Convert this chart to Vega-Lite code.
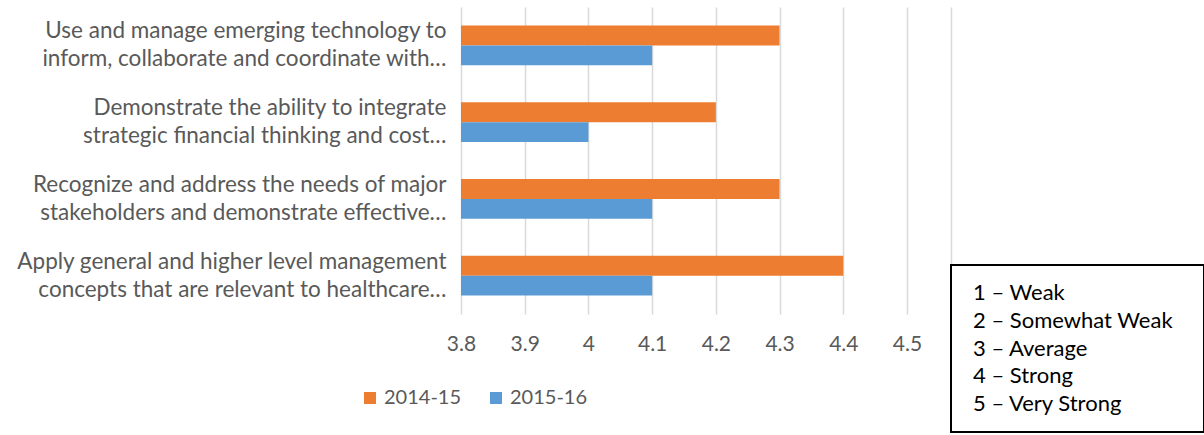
{
  "$schema": "https://vega.github.io/schema/vega-lite/v6.json",
  "padding": {"left": 5, "top": 7, "right": 0, "bottom": 0},
  "config": {"view": {"stroke": null}, "font": "Lato"},
  "bounds": "flush",
  "spacing": 44,
  "hconcat": [
    {
      "width": 446,
      "height": 307,
      "data": {
        "values": [
          {"skill": "Use and manage emerging technology to|inform, collaborate and coordinate with…", "year": "2014-15", "score": 4.3},
          {"skill": "Use and manage emerging technology to|inform, collaborate and coordinate with…", "year": "2015-16", "score": 4.1},
          {"skill": "Demonstrate the ability to integrate|strategic financial thinking and cost…", "year": "2014-15", "score": 4.2},
          {"skill": "Demonstrate the ability to integrate|strategic financial thinking and cost…", "year": "2015-16", "score": 4.0},
          {"skill": "Recognize and address the needs of major|stakeholders and demonstrate effective…", "year": "2014-15", "score": 4.3},
          {"skill": "Recognize and address the needs of major|stakeholders and demonstrate effective…", "year": "2015-16", "score": 4.1},
          {"skill": "Apply general and higher level management|concepts that are relevant to healthcare…", "year": "2014-15", "score": 4.4},
          {"skill": "Apply general and higher level management|concepts that are relevant to healthcare…", "year": "2015-16", "score": 4.1}
        ]
      },
      "mark": {"type": "bar"},
      "encoding": {
        "y": {
          "field": "skill", "type": "nominal", "sort": null,
          "scale": {"paddingInner": 0.48, "paddingOuter": 0.24},
          "axis": {"title": null, "domain": false, "ticks": false, "labelExpr": "split(datum.label, '|')", "labelFontSize": 22.5, "labelColor": "#595959", "labelPadding": 15, "labelLineHeight": 28, "labelOffset": -14, "labelLimit": 0, "minExtent": 456, "maxExtent": 456}
        },
        "yOffset": {"field": "year", "type": "nominal", "sort": ["2014-15", "2015-16"]},
        "x": {
          "field": "score", "type": "quantitative",
          "scale": {"domain": [3.8, 4.5], "zero": false, "nice": false},
          "axis": {"title": null, "values": [3.8, 3.9, 4, 4.1, 4.2, 4.3, 4.4, 4.5], "format": "~g", "labelFlush": false, "domain": false, "ticks": false, "gridColor": "#D9D9D9", "gridWidth": 1.5, "labelFontSize": 21, "labelColor": "#595959", "labelPadding": 19}
        },
        "x2": {"datum": 3.8},
        "color": {
          "field": "year", "type": "nominal",
          "scale": {"domain": ["2014-15", "2015-16"], "range": ["#ED7D31", "#5B9BD5"]},
          "legend": {"title": null, "orient": "none", "direction": "horizontal", "legendX": -101, "legendY": 381, "symbolType": "square", "symbolSize": 144, "symbolStrokeWidth": 0, "labelFontSize": 20, "labelColor": "#595959", "columnPadding": 24, "labelOffset": 4}
        }
      }
    },
    {
      "bounds": "flush",
      "spacing": 0,
      "vconcat": [
        {
          "width": 253,
          "height": 258,
          "data": {"values": [{}]},
          "mark": {"type": "rule", "opacity": 0},
          "encoding": {
            "y": {"datum": 0, "type": "quantitative", "scale": {"domain": [0, 1]}, "axis": {"title": null, "labels": false, "ticks": false, "grid": false, "domainColor": "#D9D9D9", "domainWidth": 1.5, "minExtent": 0, "maxExtent": 0}}
          }
        },
        {
          "width": 253,
          "height": 167,
          "view": {"stroke": "black", "strokeWidth": 2},
          "data": {
            "values": [
              {"line": "1 – Weak"},
              {"line": "2 – Somewhat Weak"},
              {"line": "3 – Average"},
              {"line": "4 – Strong"},
              {"line": "5 – Very Strong"}
            ]
          },
          "mark": {"type": "text", "align": "left", "baseline": "middle", "fontSize": 22, "color": "black", "dx": 22},
          "encoding": {
            "text": {"field": "line"},
            "y": {"field": "line", "type": "nominal", "sort": null, "scale": {"type": "point", "padding": 1}, "axis": null},
            "x": {"datum": 0, "type": "quantitative", "scale": {"domain": [0, 1]}, "axis": null}
          }
        }
      ]
    }
  ]
}
